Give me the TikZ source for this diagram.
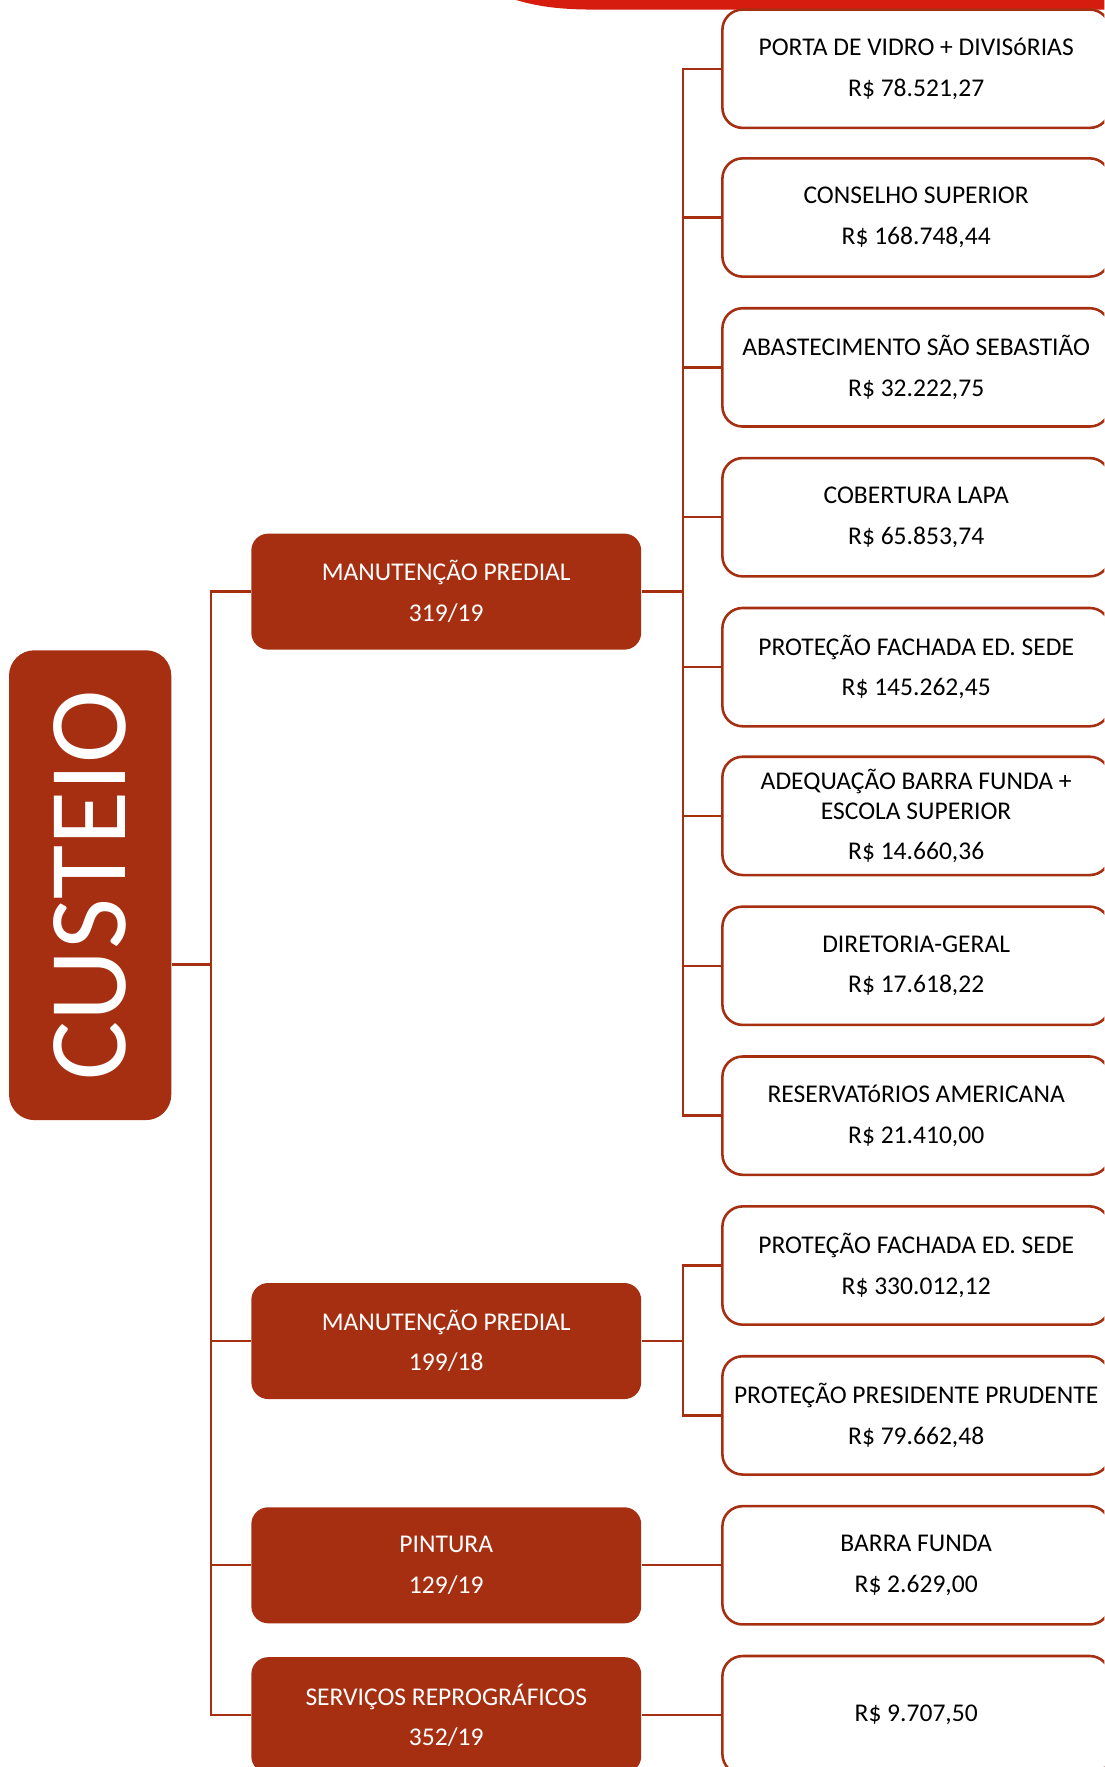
\documentclass[tikz,border=0pt]{standalone}
\usepackage{fontspec}
\setmainfont{Carlito}
\definecolor{darkrust}{RGB}{166,47,17}
\definecolor{topred}{RGB}{214,28,14}
\begin{document}
\begin{tikzpicture}[x=0.02cm,y=-0.02cm,
  detail/.style={draw=darkrust,line width=1.3pt,fill=white,rounded corners=0.36cm,
    minimum width=6.88cm,minimum height=2.1cm,inner sep=0pt,align=center,
    font=\fontsize{12.9}{15}\selectfont,text=black},
  cat/.style={fill=darkrust,rounded corners=0.3cm,minimum width=6.92cm,minimum height=2.06cm,
    inner sep=0pt,align=center,font=\fontsize{12.9}{15}\selectfont,text=white},
  root/.style={fill=darkrust,rounded corners=0.45cm,minimum width=2.88cm,minimum height=8.34cm,
    inner sep=0pt,text=white,font=\fontsize{56}{60}\selectfont},
  conn/.style={draw=darkrust,line width=1.2pt}]
\clip (0,0) rectangle (980,1568);
% top red shape
\fill[topred] (458,0) .. controls (478,6) and (498,8.5) .. (528,8.5) -- (980,8.5) -- (980,0) -- cycle;
% root
\node[root] (custeio) at (80,785.5) {\rotatebox{90}{CUSTEIO}};
% categories
\node[cat] (mp1) at (396,525) {MANUTENÇÃO PREDIAL\\[5.5pt]319/19};
\node[cat] (mp2) at (396,1190) {MANUTENÇÃO PREDIAL\\[5.5pt]199/18};
\node[cat] (pint) at (396,1389) {PINTURA\\[5.5pt]129/19};
\node[cat] (serv) at (396,1522) {SERVIÇOS REPROGRÁFICOS\\[5.5pt]352/19};
% details
\node[detail] (d1) at (813,61) {PORTA DE VIDRO + DIVISóRIAS\\[5.5pt]R\$ 78.521,27};
\node[detail] (d2) at (813,193) {CONSELHO SUPERIOR\\[5.5pt]R\$ 168.748,44};
\node[detail] (d3) at (813,326) {ABASTECIMENTO SÃO SEBASTIÃO\\[5.5pt]R\$ 32.222,75};
\node[detail] (d4) at (813,459) {COBERTURA LAPA\\[5.5pt]R\$ 65.853,74};
\node[detail] (d5) at (813,592) {PROTEÇÃO FACHADA ED. SEDE\\[5.5pt]R\$ 145.262,45};
\node[detail] (d6) at (813,724) {ADEQUAÇÃO BARRA FUNDA +\\ESCOLA SUPERIOR\\[5pt]R\$ 14.660,36};
\node[detail] (d7) at (813,857) {DIRETORIA-GERAL\\[5.5pt]R\$ 17.618,22};
\node[detail] (d8) at (813,990) {RESERVATóRIOS AMERICANA\\[5.5pt]R\$ 21.410,00};
\node[detail] (d9) at (813,1123) {PROTEÇÃO FACHADA ED. SEDE\\[5.5pt]R\$ 330.012,12};
\node[detail] (d10) at (813,1256) {PROTEÇÃO PRESIDENTE PRUDENTE\\[5.5pt]R\$ 79.662,48};
\node[detail] (d11) at (813,1389) {BARRA FUNDA\\[5.5pt]R\$ 2.629,00};
\node[detail] (d12) at (813,1522) {R\$ 9.707,50};
% junctions
\coordinate (j0) at (187,856);
\coordinate (j1) at (606,525);
\coordinate (j2) at (606,1190);
% connectors
\draw[conn] (custeio.east |- j0) -- (j0);
\foreach \n in {mp1,mp2,pint,serv} \draw[conn] (j0) |- (\n.west);
\draw[conn] (mp1.east) -- (j1);
\foreach \n in {d1,d2,d3,d4,d5,d6,d7,d8} \draw[conn] (j1) |- (\n.west);
\draw[conn] (mp2.east) -- (j2);
\foreach \n in {d9,d10} \draw[conn] (j2) |- (\n.west);
\draw[conn] (pint.east) -- (d11.west);
\draw[conn] (serv.east) -- (d12.west);
\end{tikzpicture}
\end{document}
